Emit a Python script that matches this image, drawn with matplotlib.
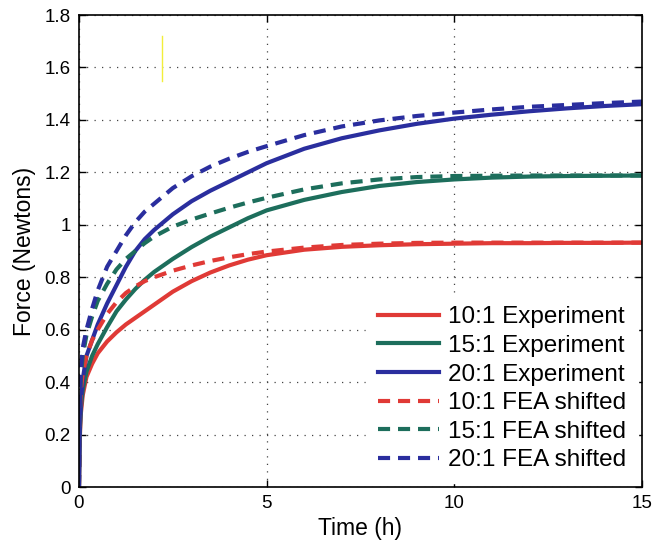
import numpy as np
import matplotlib
matplotlib.use('Agg')
import matplotlib.pyplot as plt

plt.rcParams['font.family'] = ['Liberation Sans', 'DejaVu Sans']

# time points (h) and force readings (N)
t = [0, 0.02, 0.05, 0.1, 0.2, 0.35, 0.5, 0.75, 1, 1.25, 1.5, 1.75, 2, 2.5,
     3, 3.5, 4, 4.5, 5, 6, 7, 8, 9, 10, 11, 12, 13, 14, 15]

exp_10 = [0, 0.18, 0.28, 0.35, 0.42, 0.47, 0.51, 0.555, 0.59, 0.62, 0.645,
          0.67, 0.695, 0.745, 0.785, 0.818, 0.845, 0.867, 0.884, 0.905,
          0.916, 0.922, 0.926, 0.928, 0.93, 0.93, 0.931, 0.931, 0.932]
exp_15 = [0, 0.2, 0.3, 0.37, 0.44, 0.5, 0.545, 0.61, 0.67, 0.715, 0.755,
          0.79, 0.82, 0.87, 0.915, 0.955, 0.99, 1.025, 1.055, 1.095, 1.125,
          1.148, 1.163, 1.173, 1.18, 1.184, 1.186, 1.187, 1.188]
exp_20 = [0, 0.22, 0.33, 0.41, 0.5, 0.56, 0.62, 0.7, 0.77, 0.84, 0.9,
          0.945, 0.98, 1.04, 1.09, 1.13, 1.165, 1.2, 1.235, 1.29, 1.33,
          1.36, 1.385, 1.405, 1.42, 1.433, 1.444, 1.453, 1.46]

fea_10 = [0, 0.28, 0.37, 0.43, 0.50, 0.56, 0.60, 0.66, 0.705, 0.74, 0.765,
          0.785, 0.80, 0.825, 0.845, 0.862, 0.876, 0.888, 0.898, 0.913,
          0.923, 0.928, 0.931, 0.932, 0.932, 0.932, 0.932, 0.932, 0.932]
fea_15 = [0, 0.3, 0.42, 0.5, 0.58, 0.65, 0.71, 0.775, 0.83, 0.87, 0.9,
          0.93, 0.955, 0.993, 1.02, 1.043, 1.065, 1.085, 1.103, 1.135,
          1.158, 1.173, 1.182, 1.186, 1.187, 1.188, 1.188, 1.188, 1.188]
fea_20 = [0, 0.33, 0.45, 0.53, 0.6, 0.68, 0.75, 0.84, 0.9, 0.96, 1.01,
          1.05, 1.08, 1.14, 1.185, 1.222, 1.252, 1.278, 1.30, 1.342, 1.375,
          1.398, 1.415, 1.428, 1.44, 1.45, 1.457, 1.464, 1.47]

labels = ['10:1 Experiment', '15:1 Experiment', '20:1 Experiment',
          '10:1 FEA shifted', '15:1 FEA shifted', '20:1 FEA shifted']

# stray yellow stroke near the top
mark_x = [2.2, 2.2]
mark_y = [1.55, 1.72]

red = '#e03a36'
green = '#1d6e5c'
blue = '#2a2e9e'

fig = plt.figure(figsize=(6.57, 5.46), dpi=100)
ax = fig.add_axes([0.1202, 0.108, 0.857, 0.8645])

lw = 3
dash = (2.9, 1.9)
ax.plot(t, exp_10, color=red, lw=lw, label=labels[0])
ax.plot(t, exp_15, color=green, lw=lw, label=labels[1])
ax.plot(t, exp_20, color=blue, lw=lw, label=labels[2])
ax.plot(t, fea_10, color=red, lw=lw, dashes=dash, label=labels[3])
ax.plot(t, fea_15, color=green, lw=lw, dashes=dash, label=labels[4])
ax.plot(t, fea_20, color=blue, lw=lw, dashes=dash, label=labels[5])

ax.plot(mark_x, mark_y, color='#f2ee3a', lw=1)

ax.set_xlim(0, 15)
ax.set_ylim(0, 1.8)
ax.set_xticks([0, 5, 10, 15])
ax.set_yticks(np.arange(0, 1.81, 0.2))
ax.set_yticklabels(['0', '0.2', '0.4', '0.6', '0.8', '1', '1.2', '1.4', '1.6', '1.8'])

ax.grid(True, color='#444444', linestyle=(0, (1, 5)), lw=0.9)
ax.tick_params(direction='in', top=True, right=True, length=5, width=1,
               labelsize=13.5, pad=6)
for s in ax.spines.values():
    s.set_linewidth(1.2)

ax.set_xlabel('Time (h)', fontsize=16.5, labelpad=3)
ax.set_ylabel('Force (Newtons)', fontsize=16.5, labelpad=6)

leg = ax.legend(loc='lower right', fontsize=17.5, handlelength=2.5,
                handletextpad=0.38, labelspacing=0.27, borderpad=0.5,
                borderaxespad=0.15, frameon=True, fancybox=False,
                framealpha=1, edgecolor='white')

fig.savefig('out.png', dpi=100)
